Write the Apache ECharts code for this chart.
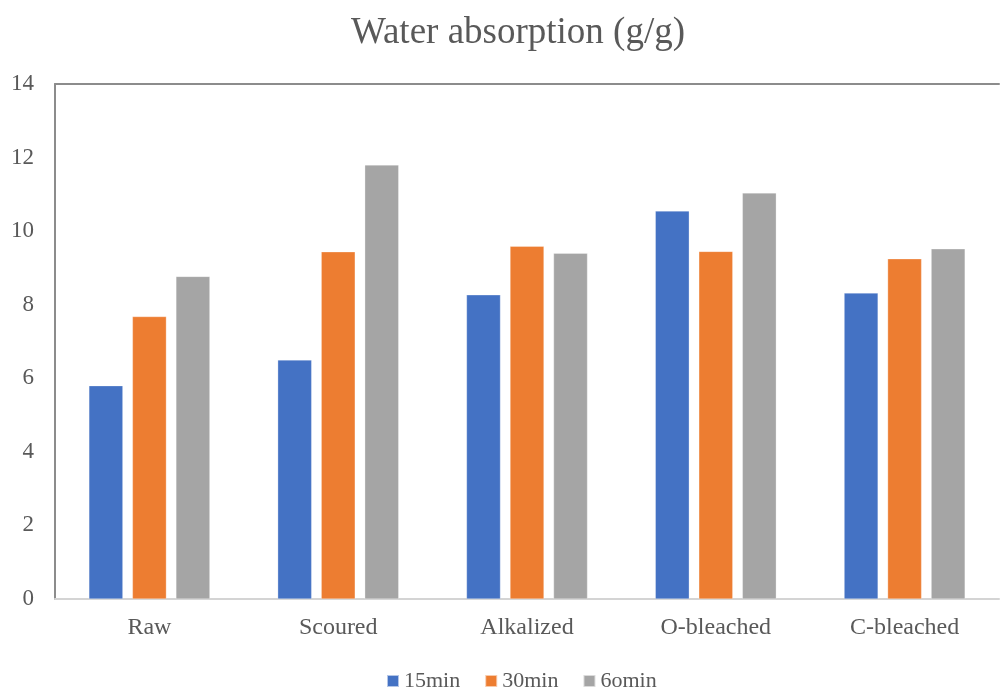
<!DOCTYPE html>
<html>
<head>
<meta charset="utf-8">
<script src="https://cdn.jsdelivr.net/npm/echarts@6/dist/echarts.min.js"></script>
<style>
  html, body { margin: 0; padding: 0; background: #ffffff; }
  #chart { width: 1003px; height: 689px; }
</style>
</head>
<body>
<div id="chart"></div>
<script>
// Water absorption of fabrics after each treatment, by soaking time
const categories = ['Raw', 'Scoured', 'Alkalized', 'O-bleached', 'C-bleached'];
const min15 = [5.80, 6.50, 8.27, 10.55, 8.32];
const min30 = [7.68, 9.44, 9.59, 9.45, 9.25];
const min60 = [8.77, 11.80, 9.40, 11.04, 9.52];
const seriesNames = ['15min', '30min', '6omin'];
const yTicks = { min: 0, max: 14, interval: 2 };

const textColor = '#595959';
const serif = '"Liberation Serif", "Times New Roman", serif';

const chart = echarts.init(document.getElementById('chart'), null, { renderer: 'canvas' });

const barStyle = (color) => ({
  type: 'bar',
  barWidth: 34,
  barGap: '28%',
  itemStyle: { color: color, borderColor: 'rgba(255,255,255,0.6)', borderWidth: 0.5 }
});

chart.setOption({
  animation: false,
  backgroundColor: '#ffffff',
  title: {
    text: 'Water absorption (g/g)',
    left: 513,
    top: 10,
    textAlign: 'center',
    textStyle: { fontFamily: serif, fontSize: 37, fontWeight: 'normal', color: textColor }
  },
  legend: {
    data: seriesNames,
    top: 665,
    left: 381,
    itemWidth: 12,
    itemHeight: 12,
    itemGap: 24,
    icon: 'rect',
    textStyle: { fontFamily: serif, fontSize: 22, color: textColor }
  },
  grid: { left: 55, right: 4, top: 84, bottom: 90, containLabel: false },
  xAxis: [
    {
      type: 'category',
      data: categories,
      axisLine: { show: true, lineStyle: { color: '#d4d4d4', width: 2 } },
      axisTick: { show: false },
      axisLabel: { fontFamily: serif, fontSize: 24, color: textColor, margin: 17 }
    },
    {
      type: 'category',
      data: categories,
      position: 'top',
      axisLine: { show: true, lineStyle: { color: '#8c8c8c', width: 2 } },
      axisTick: { show: false },
      axisLabel: { show: false }
    }
  ],
  yAxis: {
    type: 'value',
    min: yTicks.min,
    max: yTicks.max,
    interval: yTicks.interval,
    axisLine: { show: true, lineStyle: { color: '#8c8c8c', width: 2 } },
    axisTick: { show: false },
    splitLine: { show: false },
    axisLabel: { fontFamily: serif, fontSize: 23, color: textColor, margin: 21 }
  },
  series: [
    Object.assign(barStyle('#4472c4'), { name: seriesNames[0], data: min15 }),
    Object.assign(barStyle('#ed7d31'), { name: seriesNames[1], data: min30 }),
    Object.assign(barStyle('#a5a5a5'), { name: seriesNames[2], data: min60 })
  ]
});
</script>
</body>
</html>
